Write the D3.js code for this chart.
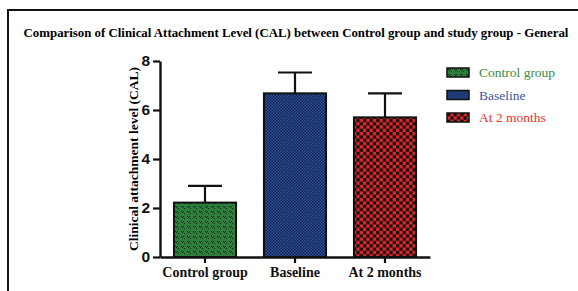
<!DOCTYPE html>
<html>
<head>
<meta charset="utf-8">
<script src="https://cdn.jsdelivr.net/npm/d3@7"></script>
<style>
  body { margin: 0; background: #fff; }
  svg { display: block; }
</style>
</head>
<body>
<div id="chart"></div>
<script>
// values
const categories = ['Control group', 'Baseline', 'At 2 months'];
const means = [2.22, 6.68, 5.70];
const errors = [0.68, 0.85, 0.98];
const yTicks = [0, 2, 4, 6, 8];
const title = 'Comparison of Clinical Attachment Level (CAL) between Control group and study group - General';
const yTitle = 'Clinical attachment level (CAL)';

const width = 578;
const height = 291;
const plot = {left: 160, right: 430, top: 61, bottom: 257};

const svg = d3.select('#chart')
  .append('svg')
  .attr('width', width)
  .attr('height', height);

// fill patterns for the three bars
const defs = svg.append('defs');

function checker(id, size, bg, fg) {
  const p = defs.append('pattern')
    .attr('id', id)
    .attr('patternUnits', 'userSpaceOnUse')
    .attr('width', size * 2)
    .attr('height', size * 2);
  p.append('rect').attr('width', size * 2).attr('height', size * 2).attr('fill', bg);
  p.append('rect').attr('width', size).attr('height', size).attr('fill', fg);
  p.append('rect').attr('x', size).attr('y', size).attr('width', size).attr('height', size).attr('fill', fg);
  return `url(#${id})`;
}

const greenPat = defs.append('pattern')
  .attr('id', 'pat-green')
  .attr('patternUnits', 'userSpaceOnUse')
  .attr('width', 6)
  .attr('height', 5);
greenPat.append('rect').attr('width', 6).attr('height', 5).attr('fill', '#2f7d3c');
greenPat.append('path').attr('d', 'M1,1h1v1h-1zM3,1h1v1h-1zM2,2h1v1h-1zM4,3h1v1h-1z').attr('fill', '#0d2a12');

const fills = [
  'url(#pat-green)',
  checker('pat-blue', 1.5, '#2f55a5', '#0e1e45'),
  checker('pat-red', 3.3, '#e8262a', '#111')
];

// frame lines
svg.append('path')
  .attr('d', `M8,${height}V10H${width}`)
  .attr('fill', 'none')
  .attr('stroke', '#111')
  .attr('stroke-width', 2);

svg.append('text')
  .attr('x', 296)
  .attr('y', 37)
  .attr('text-anchor', 'middle')
  .attr('font-family', 'Liberation Serif, serif')
  .attr('font-weight', 'bold')
  .attr('font-size', 12.85)
  .text(title);

const x = d3.scaleBand()
  .domain(categories)
  .range([plot.left, plot.right])
  .paddingInner(0.31)
  .paddingOuter(0.155);

const y = d3.scaleLinear()
  .domain([0, 8])
  .range([plot.bottom, plot.top]);

// bars
svg.append('g')
  .selectAll('rect')
  .data(categories)
  .enter()
  .append('rect')
  .attr('x', d => x(d))
  .attr('y', (d, i) => y(means[i]))
  .attr('width', x.bandwidth())
  .attr('height', (d, i) => y(0) - y(means[i]))
  .attr('fill', (d, i) => fills[i])
  .attr('stroke', '#111')
  .attr('stroke-width', 2);

// error bars (upper half only)
const err = svg.append('g')
  .attr('stroke', '#111')
  .attr('stroke-width', 2.2);
categories.forEach((c, i) => {
  const cx = x(c) + x.bandwidth() / 2;
  err.append('line')
    .attr('x1', cx).attr('x2', cx)
    .attr('y1', y(means[i])).attr('y2', y(means[i] + errors[i]));
  err.append('line')
    .attr('x1', cx - 17).attr('x2', cx + 17)
    .attr('y1', y(means[i] + errors[i])).attr('y2', y(means[i] + errors[i]));
});

// axes
const yAxis = svg.append('g')
  .attr('transform', `translate(${plot.left},0)`)
  .call(d3.axisLeft(y).tickValues(yTicks).tickSize(7).tickPadding(3).tickSizeOuter(0));

const xAxis = svg.append('g')
  .attr('transform', `translate(0,${plot.bottom})`)
  .call(d3.axisBottom(x).tickSize(6).tickPadding(4).tickSizeOuter(0));

[yAxis, xAxis].forEach(a => {
  a.select('.domain').attr('stroke', '#111').attr('stroke-width', 2.4);
  a.selectAll('.tick line').attr('stroke', '#111').attr('stroke-width', 2.2);
});

yAxis.selectAll('.tick text')
  .attr('fill', '#111')
  .attr('font-family', 'Liberation Sans, Arial, sans-serif')
  .attr('font-weight', 'bold')
  .attr('font-size', 15.5);

xAxis.selectAll('.tick text')
  .attr('fill', '#111')
  .attr('font-family', 'Liberation Serif, serif')
  .attr('font-weight', 'bold')
  .attr('font-size', 14);

svg.append('text')
  .attr('transform', `translate(138,${(plot.top + plot.bottom) / 2}) rotate(-90)`)
  .attr('text-anchor', 'middle')
  .attr('font-family', 'Liberation Serif, serif')
  .attr('font-weight', 'bold')
  .attr('font-size', 13.5)
  .text(yTitle);

// legend
const legendColors = ['#3b8a45', '#3a55a5', '#e8312d'];
const legend = svg.append('g')
  .selectAll('g')
  .data(categories)
  .enter()
  .append('g')
  .attr('transform', (d, i) => `translate(447,${68 + i * 22.5})`);

legend.append('rect')
  .attr('width', 22)
  .attr('height', 9)
  .attr('fill', (d, i) => fills[i])
  .attr('stroke', '#111')
  .attr('stroke-width', 1.5);

legend.append('text')
  .attr('x', 32)
  .attr('y', 9)
  .attr('font-family', 'Liberation Serif, serif')
  .attr('font-size', 13.5)
  .attr('fill', (d, i) => legendColors[i])
  .text(d => d);
</script>
</body>
</html>
